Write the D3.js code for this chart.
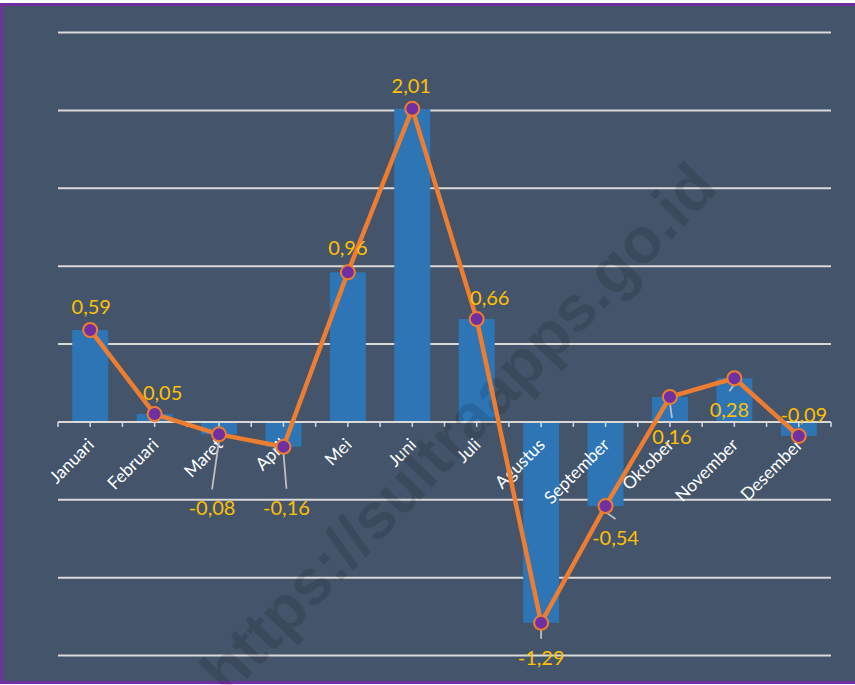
<!DOCTYPE html>
<html>
<head>
<meta charset="utf-8">
<script src="https://cdn.jsdelivr.net/npm/d3@7"></script>
<style>
  body { margin: 0; background: #fff; }
  svg { display: block; }
</style>
</head>
<body>
<div id="chart"></div>
<script>
const months = ["Januari", "Februari", "Maret", "April", "Mei", "Juni", "Juli",
                "Agustus", "September", "Oktober", "November", "Desember"];
const values = [0.59, 0.05, -0.08, -0.16, 0.96, 2.01, 0.66, -1.29, -0.54, 0.16, 0.28, -0.09];
const gridTicks = [-1.5, -1, -0.5, 0.5, 1, 1.5, 2, 2.5];
// label placement relative to each point: dx, dy, leader line
const labelOffsets = [
  [1, -23, false], [8, -21, false], [-7, 74, true], [3, 61, true],
  [0, -24, false], [-1, -23, false], [13, -21, false], [0, 35, true],
  [10, 32, true], [2, 40, true], [-5, 32, true], [5, -21, false]
];

const W = 855, H = 685;

const locale = d3.formatLocale({ decimal: ",", thousands: ".", grouping: [3], currency: ["", ""], minus: "-" });
const fmt = locale.format(".2f");

const svg = d3.select("#chart").append("svg")
  .attr("width", W).attr("height", H);

svg.append("rect")
  .attr("x", 1.5).attr("y", 4.5)
  .attr("width", 880).attr("height", 678)
  .attr("fill", "#44546A")
  .attr("stroke", "#7030A0")
  .attr("stroke-width", 3);

const x = d3.scaleBand()
  .domain(months)
  .range([58, 831]);

const y = d3.scaleLinear()
  .domain([-1.5, 2.5])
  .range([655.5, 32.5]);

// gridlines
svg.append("g")
  .selectAll("line")
  .data(gridTicks)
  .join("line")
  .attr("x1", 58).attr("x2", 831)
  .attr("y1", d => y(d)).attr("y2", d => y(d))
  .attr("stroke", "#D9D9D9")
  .attr("stroke-width", 2);

// bars
const barW = 36;
svg.append("g")
  .selectAll("rect")
  .data(values)
  .join("rect")
  .attr("x", (d, i) => x(months[i]) + x.bandwidth() / 2 - barW / 2)
  .attr("y", d => y(Math.max(0, d)))
  .attr("width", barW)
  .attr("height", d => Math.abs(y(d) - y(0)))
  .attr("fill", "#2E75B6");

// zero axis with half-band ticks
const axis = d3.axisBottom(x).tickSize(5).tickFormat("");
const ax = svg.append("g")
  .attr("transform", `translate(0,${y(0)})`)
  .call(axis);
ax.select(".domain").attr("stroke", "#D9D9D9").attr("stroke-width", 2).attr("d", `M58,0H831`);
ax.selectAll(".tick line").attr("stroke", "#D9D9D9").attr("stroke-width", 1.5);
const edges = d3.range(13).map(i => 58 + i * x.step());
ax.selectAll(".edge")
  .data(edges)
  .join("line")
  .attr("x1", d => d).attr("x2", d => d)
  .attr("y1", 0).attr("y2", 5)
  .attr("stroke", "#D9D9D9").attr("stroke-width", 1.5);

// category labels
svg.append("g")
  .selectAll("text")
  .data(months)
  .join("text")
  .attr("transform", d => `translate(${x(d) + x.bandwidth() / 2 + 5},${y(0) + 24}) rotate(-45)`)
  .attr("text-anchor", "end")
  .attr("fill", "#FFFFFF")
  .style("font-family", "Lato, 'Open Sans', sans-serif")
  .style("font-size", "17.5px")
  .text(d => d);

// watermark
svg.append("text")
  .attr("transform", "translate(462,432) rotate(-46)")
  .attr("text-anchor", "middle")
  .attr("dominant-baseline", "middle")
  .attr("fill", "rgba(0,0,0,0.12)")
  .style("font-family", "'Liberation Sans', Arial, sans-serif")
  .style("font-weight", "bold")
  .style("font-size", "64px")
  .text("https://sultraapps.go.id");

const cx = (d, i) => x(months[i]) + x.bandwidth() / 2;

// leader lines
svg.append("g")
  .selectAll("line")
  .data(values.map((v, i) => ({ v, i, o: labelOffsets[i] })).filter(d => d.o[2]))
  .join("line")
  .attr("x1", d => cx(d.v, d.i))
  .attr("y1", d => y(d.v) + 6)
  .attr("x2", d => cx(d.v, d.i) + d.o[0])
  .attr("y2", d => y(d.v) + d.o[1] - 19)
  .attr("stroke", "#BFBFBF")
  .attr("stroke-width", 1.8);

// line
const line = d3.line()
  .x((d, i) => cx(d, i))
  .y(d => y(d));

svg.append("path")
  .datum(values)
  .attr("d", line)
  .attr("fill", "none")
  .attr("stroke", "#ED7D31")
  .attr("stroke-width", 4.5)
  .attr("stroke-linejoin", "round");

svg.append("g")
  .selectAll("circle")
  .data(values)
  .join("circle")
  .attr("cx", cx)
  .attr("cy", d => y(d))
  .attr("r", 7)
  .attr("fill", "#7030A0")
  .attr("stroke", "#ED7D31")
  .attr("stroke-width", 2);

// value labels
svg.append("g")
  .selectAll("text")
  .data(values)
  .join("text")
  .attr("x", (d, i) => cx(d, i) + labelOffsets[i][0])
  .attr("y", (d, i) => y(d) + labelOffsets[i][1])
  .attr("dy", "0.35em")
  .attr("text-anchor", "middle")
  .attr("fill", "#FFC000")
  .style("font-family", "Lato, 'Open Sans', sans-serif")
  .style("font-size", "20px")
  .text(d => fmt(d));
</script>
</body>
</html>
